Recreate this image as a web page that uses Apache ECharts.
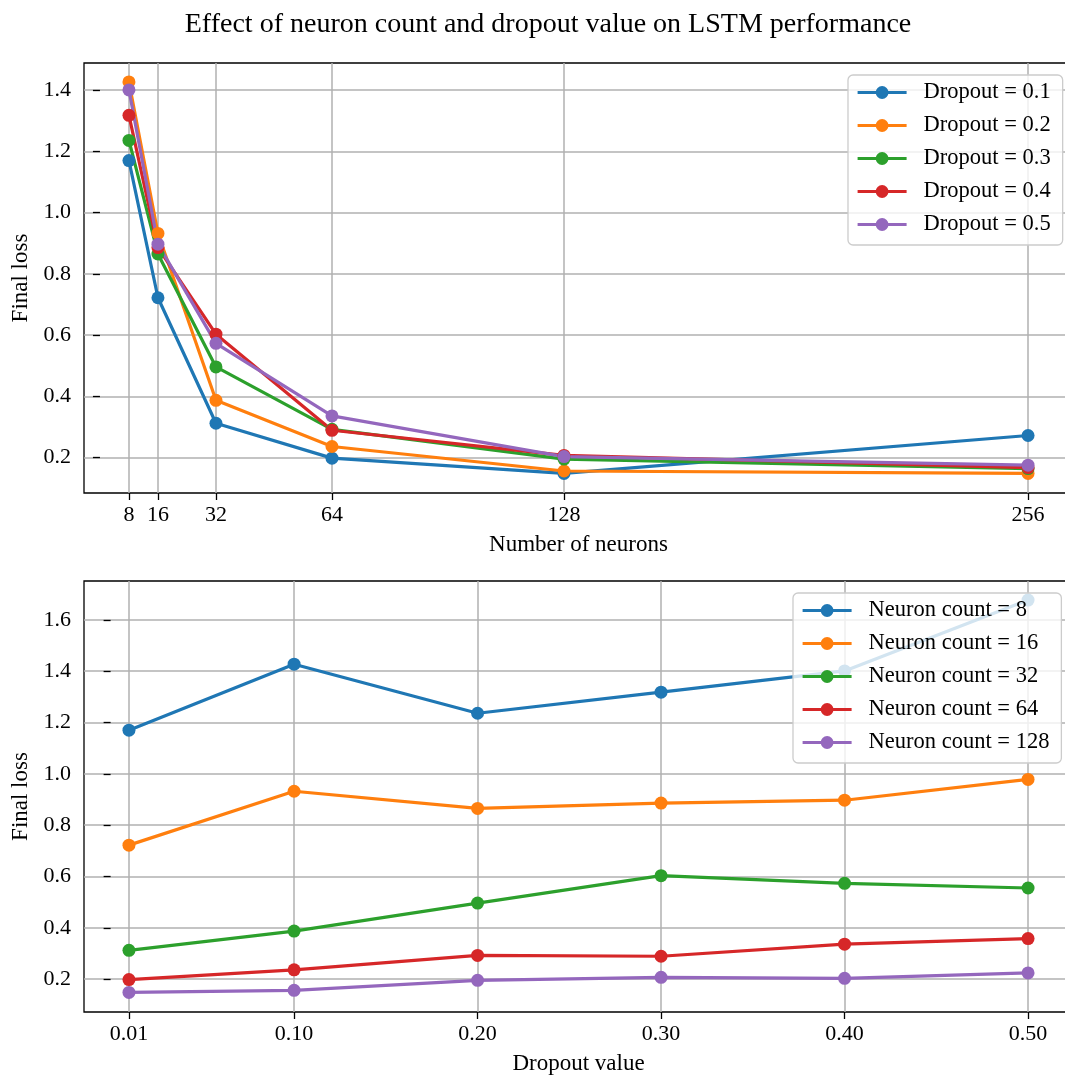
<!DOCTYPE html>
<html>
<head>
<meta charset="utf-8">
<script src="https://cdn.jsdelivr.net/npm/echarts@6/dist/echarts.min.js"></script>
<style>
  html, body { margin: 0; padding: 0; background: #fff; }
  #chart { width: 1065px; height: 1077px; }
</style>
</head>
<body>
<div id="chart"></div>
<script>
// 上图：横轴为神经元数量
const neurons = [8, 16, 32, 64, 128, 256]
const dropoutNames = ['Dropout = 0.1', 'Dropout = 0.2', 'Dropout = 0.3', 'Dropout = 0.4', 'Dropout = 0.5']
const lossD1 = [1.170, 0.722, 0.312, 0.198, 0.148, 0.272]
const lossD2 = [1.427, 0.932, 0.387, 0.236, 0.156, 0.148]
const lossD3 = [1.236, 0.865, 0.496, 0.292, 0.195, 0.164]
const lossD4 = [1.318, 0.886, 0.603, 0.289, 0.207, 0.167]
const lossD5 = [1.401, 0.897, 0.573, 0.336, 0.203, 0.175]

// 下图：横轴为 dropout
const dropouts = [0.01, 0.10, 0.20, 0.30, 0.40, 0.50]
const neuronNames = ['Neuron count = 8', 'Neuron count = 16', 'Neuron count = 32', 'Neuron count = 64', 'Neuron count = 128']
const lossN8 = [1.170, 1.427, 1.236, 1.318, 1.401, 1.677]
const lossN16 = [0.722, 0.932, 0.865, 0.886, 0.897, 0.978]
const lossN32 = [0.312, 0.387, 0.496, 0.603, 0.573, 0.555]
const lossN64 = [0.198, 0.236, 0.292, 0.289, 0.336, 0.358]
const lossN128 = [0.148, 0.156, 0.195, 0.207, 0.203, 0.224]

const yTicks = [0.2, 0.4, 0.6, 0.8, 1.0, 1.2, 1.4, 1.6]

const colors = ['#1f77b4', '#ff7f0e', '#2ca02c', '#d62728', '#9467bd']
const font = 'Liberation Serif'

const chart = echarts.init(document.getElementById('chart'))

// 生成折线系列
function makeSeries (names, arrs, xs, idx) {
  return arrs.map((arr, i) => ({
    name: names[i],
    type: 'line',
    xAxisIndex: idx,
    yAxisIndex: idx,
    data: arr.map((v, j) => [xs[j], v]),
    symbol: 'circle',
    symbolSize: 13,
    showSymbol: true,
    lineStyle: { width: 3.2, color: colors[i] },
    itemStyle: { color: colors[i] },
    emphasis: { disabled: true },
    animation: false
  }))
}

function xAxisOpt (idx, min, max, ticks, name, fmt) {
  return {
    type: 'value',
    gridIndex: idx,
    min: min,
    max: max,
    name: name,
    nameLocation: 'middle',
    nameGap: 40,
    nameTextStyle: { fontFamily: font, fontSize: 23, color: '#000' },
    axisLine: { show: false },
    axisTick: { show: true, length: 7, customValues: ticks, lineStyle: { color: '#000', width: 1.3 } },
    axisLabel: { customValues: ticks, margin: 11, fontFamily: font, fontSize: 22, color: '#000', formatter: fmt },
    splitLine: { show: true, lineStyle: { color: '#b0b0b0', width: 1.5 } }
  }
}

function yAxisOpt (idx, min, max, ticks) {
  return {
    type: 'value',
    gridIndex: idx,
    min: min,
    max: max,
    name: 'Final loss',
    nameLocation: 'middle',
    nameGap: 50,
    nameTextStyle: { fontFamily: font, fontSize: 23, color: '#000' },
    axisLine: { show: false },
    axisTick: { show: true, length: 7, customValues: ticks, lineStyle: { color: '#000', width: 1.3 } },
    axisLabel: { customValues: ticks, margin: 13, fontFamily: font, fontSize: 22, color: '#000', formatter: v => v.toFixed(1) },
    splitLine: { show: true, lineStyle: { color: '#b0b0b0', width: 1.5 } }
  }
}

function legendOpt (names, left, top) {
  return {
    data: names,
    orient: 'vertical',
    left: left,
    top: top,
    itemWidth: 49,
    itemHeight: 16,
    itemGap: 10,
    padding: [6, 12, 9, 8],
    backgroundColor: 'rgba(255,255,255,0.8)',
    borderColor: '#cccccc',
    borderWidth: 1.3,
    borderRadius: 5,
    lineStyle: { width: 3.2 },
    textStyle: { fontFamily: font, fontSize: 22.5, lineHeight: 22, color: '#000', padding: [0, 0, 0, 12] }
  }
}

const gridBase = { show: true, borderColor: '#000', borderWidth: 1.3, backgroundColor: 'transparent', outerBoundsMode: 'none', containLabel: false }

const option = {
  backgroundColor: '#fff',
  animation: false,
  color: colors,
  title: {
    text: 'Effect of neuron count and dropout value on LSTM performance',
    left: 543,
    top: 6,
    textAlign: 'center',
    textStyle: { fontFamily: font, fontSize: 28, fontWeight: 'normal', color: '#000' }
  },
  legend: [
    legendOpt(dropoutNames, 848, 75),
    legendOpt(neuronNames, 793, 593)
  ],
  grid: [
    Object.assign({ left: 84, top: 63, width: 989, height: 430 }, gridBase),
    Object.assign({ left: 84, top: 581, width: 989, height: 431 }, gridBase)
  ],
  xAxis: [
    xAxisOpt(0, -4.4, 268.4, neurons, 'Number of neurons', v => String(v)),
    xAxisOpt(1, -0.0145, 0.5245, dropouts, 'Dropout value', v => v.toFixed(2))
  ],
  yAxis: [
    yAxisOpt(0, 0.0841, 1.4889, yTicks.slice(0, 7)),
    yAxisOpt(1, 0.0717, 1.7513, yTicks)
  ],
  series: [
    ...makeSeries(dropoutNames, [lossD1, lossD2, lossD3, lossD4, lossD5], neurons, 0),
    ...makeSeries(neuronNames, [lossN8, lossN16, lossN32, lossN64, lossN128], dropouts, 1)
  ]
}

chart.setOption(option)
</script>
</body>
</html>
